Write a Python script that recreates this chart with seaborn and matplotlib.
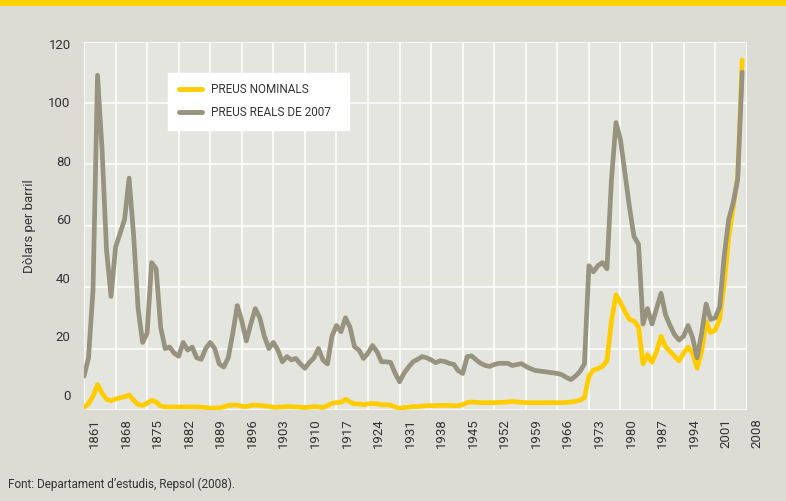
import matplotlib
matplotlib.use("Agg")
import matplotlib.pyplot as plt
from matplotlib.patches import Rectangle
from matplotlib.transforms import ScaledTranslation
import seaborn as sns
import pandas as pd

# preu del petroli, dòlars per barril (llegit del gràfic)
years = list(range(1861, 2008))

real_2007 = [
    11, 17, 39, 109, 85, 52, 37, 53, 57.5, 62,
    75.5, 57, 33, 22, 25, 48, 46, 27, 20, 20.5,
    18.5, 17.5, 22, 19.5, 20.5, 17, 16.5, 20, 22, 20,
    15, 14, 17, 25, 34, 29, 22.5, 28, 33, 30,
    24, 20, 22, 19.5, 15.7, 17.4, 16.3, 16.8, 15, 13.6,
    15.5, 17, 20, 16.3, 15, 24, 27.5, 25.5, 30, 27,
    20.6, 19.5, 16.8, 18.5, 21, 19, 15.7, 15.7, 15.5, 12,
    9.2, 12, 14, 15.7, 16.5, 17.4, 17, 16.3, 15.4, 16,
    15.8, 15.2, 14.9, 12.8, 11.9, 17.4, 17.6, 16.3, 15.2, 14.5,
    14.2, 14.8, 15.2, 15.2, 15.2, 14.5, 14.8, 15.1, 14.2, 13.5,
    12.9, 12.7, 12.5, 12.3, 12.1, 11.9, 11.5, 10.6, 9.9, 11,
    12.5, 15, 47, 45, 47, 48, 46, 75, 93.6, 88,
    77, 66, 56.5, 54, 28, 33, 28, 33, 38, 31,
    27.5, 24.5, 22.8, 24, 27.5, 23.5, 17, 25, 34.5, 29.5,
    30, 33.5, 50, 62, 67.5, 75, 110,
]

nominal = [
    0.9, 2.0, 4.5, 8.3, 5.5, 3.5, 3.0, 3.6, 4.0, 4.3,
    4.9, 3.2, 1.8, 1.5, 2.2, 3.2, 2.6, 1.3, 1.0, 1.0,
    1.0, 1.0, 1.0, 1.0, 1.0, 1.0, 0.9, 0.8, 0.6, 0.6,
    0.7, 1.0, 1.5, 1.6, 1.6, 1.2, 1.1, 1.5, 1.6, 1.5,
    1.3, 1.2, 0.9, 0.9, 1.0, 1.1, 1.1, 1.0, 0.9, 0.8,
    0.9, 1.1, 1.0, 0.8, 1.4, 2.2, 2.4, 2.5, 3.5, 2.6,
    2.0, 2.0, 1.7, 2.0, 2.1, 2.0, 1.7, 1.7, 1.6, 1.0,
    0.5, 0.8, 0.9, 1.1, 1.1, 1.3, 1.4, 1.4, 1.4, 1.5,
    1.5, 1.5, 1.4, 1.4, 1.7, 2.4, 2.6, 2.5, 2.4, 2.4,
    2.4, 2.4, 2.5, 2.5, 2.6, 2.8, 2.6, 2.5, 2.4, 2.4,
    2.4, 2.4, 2.4, 2.4, 2.4, 2.4, 2.4, 2.5, 2.6, 2.8,
    3.2, 4.0, 11, 13, 13.5, 14.2, 16, 29, 37.5, 35,
    32, 29.5, 29, 27, 15, 18, 15.5, 19, 24, 20.6,
    19, 17.5, 16, 18.5, 20.5, 18.5, 13.6, 19, 28.8, 25.2,
    26, 29.5, 41, 56, 66, 76, 114,
]

xticks = list(range(1861, 2009, 7))
yticks = [0, 20, 40, 60, 80, 100, 120]

series_labels = ["PREUS NOMINALS", "PREUS REALS DE 2007"]
series_colors = ["#ffcc00", "#97937f"]

df = pd.DataFrame({"any": years, "nominal": nominal, "real": real_2007})

sns.set_style("white")
plt.rcParams["font.family"] = ["Roboto", "DejaVu Sans"]
text_color = "#333333"

fig = plt.figure(figsize=(7.86, 5.01), dpi=100, facecolor="#dcdcd4")
ax = fig.add_axes([84 / 786, 1 - 410 / 501, 662.7 / 786, 368.5 / 501])
ax.set_facecolor("#e5e5df")

# franja groga superior
fig.patches.append(Rectangle((0, 1 - 6 / 501), 1, 6 / 501, transform=fig.transFigure,
                             facecolor="#ffd200", edgecolor="none"))

sns.lineplot(data=df, x="any", y="nominal", ax=ax, color=series_colors[0], linewidth=3.4,
             label=series_labels[0], solid_joinstyle="round", solid_capstyle="round")
sns.lineplot(data=df, x="any", y="real", ax=ax, color=series_colors[1], linewidth=3.4,
             label=series_labels[1], solid_joinstyle="round", solid_capstyle="round")

ax.set_xlim(1861, 2008)
ax.set_ylim(0, 120)
ax.set_xticks(xticks)
ax.set_yticks(yticks)
ax.set_xticklabels([str(y) for y in xticks], rotation=90)
ax.grid(True, color="white", linewidth=1.1)
ax.set_axisbelow(True)
for s in ax.spines.values():
    s.set_visible(False)

ax.tick_params(axis="x", direction="out", length=11, width=1.1, color="white",
               pad=-5, labelsize=9.5, labelcolor=text_color)
ax.tick_params(axis="y", length=0, pad=9.5, labelsize=9.5, labelcolor=text_color)

# les etiquetes de l'original queden desplaçades respecte de la graella
for lbl in ax.get_xticklabels():
    lbl.set_transform(lbl.get_transform() + ScaledTranslation(10.5 / 100, 0, fig.dpi_scale_trans))
for v, lbl in zip(yticks, ax.get_yticklabels()):
    dy = (15 - 0.145 * v) / 100
    lbl.set_transform(lbl.get_transform() + ScaledTranslation(0, dy, fig.dpi_scale_trans))

ax.set_xlabel("")
ax.set_ylabel("Dòlars per barril", fontsize=9.5, color=text_color)
ax.yaxis.set_label_coords(-0.072, 0.5)

leg = ax.legend(loc="upper left", bbox_to_anchor=(0.1268, 0.70, 0.2731, 0.2153),
                mode="expand", borderaxespad=0, frameon=True, fancybox=False,
                framealpha=1, facecolor="white", edgecolor="white", fontsize=8.5,
                handlelength=2.0, handletextpad=0.75, labelspacing=0.85, borderpad=0.9)
for t in leg.get_texts():
    t.set_color(text_color)
for h in leg.get_lines():
    h.set_linewidth(3.5)

fig.text(8 / 786, 1 - 484 / 501, "Font: Departament d\u2019estudis, Repsol (2008).",
         fontsize=8.5, color=text_color, va="center", ha="left")

fig.savefig("out.png", dpi=100, facecolor=fig.get_facecolor())
